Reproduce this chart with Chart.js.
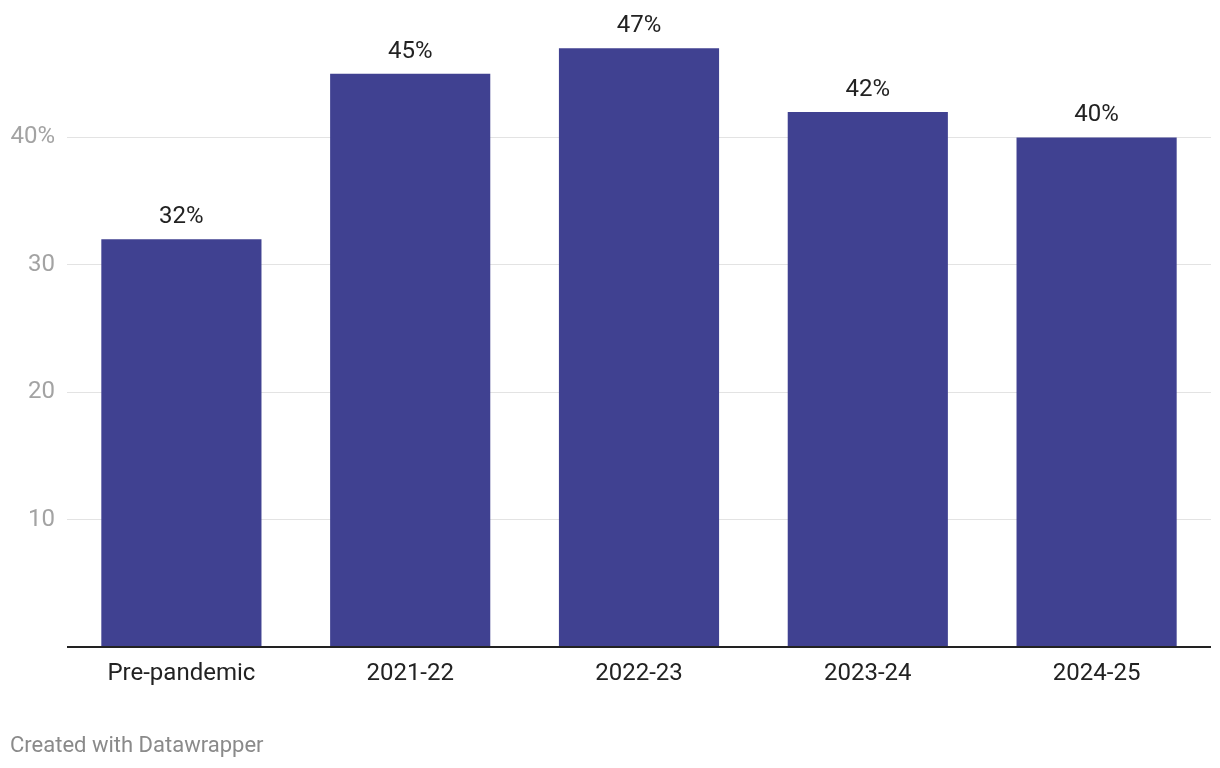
<!DOCTYPE html>
<html><head><meta charset="utf-8">
<script src="https://cdn.jsdelivr.net/npm/chart.js@4"></script>
<style>html,body{margin:0;padding:0;background:#fff}#wrap{width:1220px;height:768px;position:relative}</style>
</head><body><div id="wrap"><canvas id="c" width="1220" height="768"></canvas></div>
<script>
const categories = ['Pre-pandemic','2021-22','2022-23','2023-24','2024-25'];
const values = [32, 45, 47, 42, 40];
const yTicks = [0, 10, 20, 30, 40, 50];
const yTickLabels = ['', '10', '20', '30', '40%', ''];
const footerText = 'Created with Datawrapper';

const FONT = 'Roboto, "Noto Sans", sans-serif';

const labelPlugin = {
  id: 'valueLabels',
  afterDatasetsDraw(chart) {
    const ctx = chart.ctx;
    const meta = chart.getDatasetMeta(0);
    ctx.save();
    ctx.font = '24px ' + FONT;
    ctx.fillStyle = '#222222';
    ctx.textAlign = 'center';
    ctx.textBaseline = 'middle';
    meta.data.forEach((bar, i) => {
      ctx.fillText(values[i] + '%', bar.x, bar.y - 22);
    });
    ctx.restore();
  },
  afterDraw(chart) {
    const ctx = chart.ctx;
    ctx.save();
    ctx.font = '22px ' + FONT;
    ctx.fillStyle = '#8a8a8a';
    ctx.textAlign = 'left';
    ctx.textBaseline = 'middle';
    ctx.fillText(footerText, 10, 746);
    ctx.restore();
  }
};

new Chart(document.getElementById('c'), {
  type: 'bar',
  data: {
    labels: categories,
    datasets: [{
      data: values,
      backgroundColor: '#404191',
      barPercentage: 1,
      categoryPercentage: 0.7
    }]
  },
  options: {
    responsive: false,
    animation: false,
    events: [],
    layout: { padding: { left: 0, right: 9, top: 10, bottom: 0 } },
    plugins: { legend: { display: false }, tooltip: { enabled: false } },
    scales: {
      x: {
        grid: { display: false },
        border: { display: false },
        ticks: { color: '#222222', font: { family: FONT, size: 24 }, padding: 5, maxRotation: 0 },
        afterFit(s) { s.height = 121; s.paddingLeft = 0; s.paddingRight = 0; }
      },
      y: {
        min: 0, max: 50,
        afterBuildTicks(s) { s.ticks = yTicks.map(v => ({ value: v })); },
        grid: {
          drawTicks: false,
          color: ctx => ctx.tick && ctx.tick.value === 0 ? '#222222' : (ctx.tick && ctx.tick.value === 50 ? 'rgba(0,0,0,0)' : '#e3e3e3'),
          lineWidth: ctx => ctx.tick && ctx.tick.value === 0 ? 2 : 1
        },
        border: { display: false },
        ticks: {
          color: '#a3a3a3', font: { family: FONT, size: 24 }, padding: 12,
          callback: (v, i) => yTickLabels[yTicks.indexOf(v)]
        },
        afterFit(s) { s.width = 67; s.paddingTop = 0; s.paddingBottom = 0; }
      }
    }
  },
  plugins: [labelPlugin]
});
</script></body></html>
